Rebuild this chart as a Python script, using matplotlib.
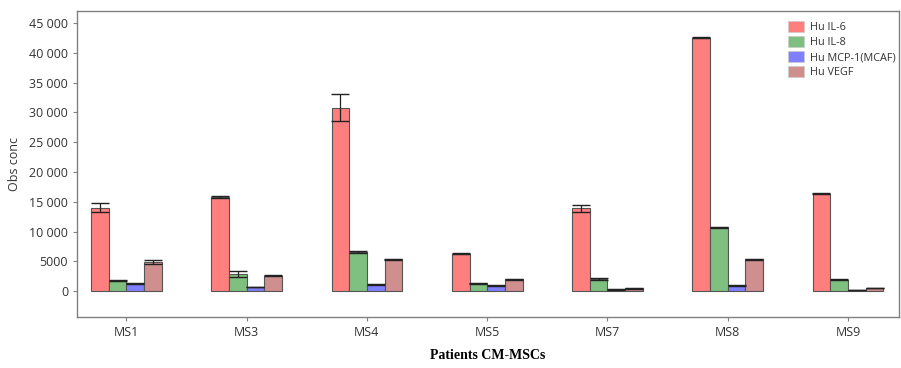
import matplotlib.pyplot as plt
import matplotlib.patches as mpatches
import numpy as np

patients = ["MS1", "MS3", "MS4", "MS5", "MS7", "MS8", "MS9"]
series = ["Hu IL-6", "Hu IL-8", "Hu MCP-1(MCAF)", "Hu VEGF"]

il6 = [14000, 15800, 30800, 6300, 13900, 42500, 16400]
il8 = [1800, 2900, 6600, 1350, 2050, 10700, 1900]
mcp1 = [1300, 700, 1170, 950, 330, 950, 250]
vegf = [4950, 2600, 5350, 2000, 500, 5400, 550]

il6_err = [750, 100, 2300, 80, 600, 100, 100]
il8_err = [100, 500, 200, 100, 200, 80, 80]
mcp1_err = [80, 60, 60, 50, 40, 60, 40]
vegf_err = [300, 80, 80, 60, 40, 100, 50]

yticks = [0, 5000, 10000, 15000, 20000, 25000, 30000, 35000, 40000, 45000]
ytick_labels = ["0", "5000", "10 000", "15 000", "20 000", "25 000",
                "30 000", "35 000", "40 000", "45 000"]

colors = ["#ff7f7f", "#7fbf7f", "#7f7fff", "#cf8f8f"]

fig = plt.figure(figsize=(9.01, 3.68), dpi=100)
ax = fig.add_axes([0.0855, 0.1378, 0.9123, 0.8323])

x = np.arange(len(patients))
w = 0.147
values = [il6, il8, mcp1, vegf]
errors = [il6_err, il8_err, mcp1_err, vegf_err]
for i, (vals, errs) in enumerate(zip(values, errors)):
    pos = x + (i - 1.5) * w
    ax.bar(pos, vals, w, color=colors[i], edgecolor="#555555", linewidth=0.8, zorder=2)
    ax.errorbar(pos, vals, yerr=errs, fmt="none", ecolor="#222222",
                elinewidth=0.9, capsize=6.2, capthick=1.0, zorder=3)

ax.set_xlim(-0.41, 6.424)
ax.set_ylim(-4360, 47010)
ax.set_xticks(x)
ax.set_xticklabels(patients, fontsize=9, family="Open Sans", color="#333333")
ax.set_yticks(yticks)
ax.set_yticklabels(ytick_labels, fontsize=9, family="Open Sans", color="#333333")
ax.tick_params(axis="both", direction="out", length=3, width=0.8, color="#808080")

for s in ax.spines.values():
    s.set_color("#808080")
    s.set_linewidth(1.0)

ax.set_ylabel("Obs conc", fontsize=9, family="Open Sans", color="#333333", labelpad=6)
ax.set_xlabel("Patients CM-MSCs", fontsize=10, family="Liberation Serif",
              fontweight="bold", labelpad=7)

handles = [mpatches.Patch(facecolor=c, edgecolor="#cccccc", linewidth=0.5) for c in colors]
leg = ax.legend(handles, series, loc="upper left", bbox_to_anchor=(0.855, 0.995),
                frameon=False, prop={"family": "Open Sans", "size": 7.8},
                handlelength=1.4, handleheight=1.2, labelspacing=0.25,
                handletextpad=0.6, borderpad=0.3)
for t in leg.get_texts():
    t.set_color("#333333")

fig.savefig("out.png", dpi=100)
plt.close(fig)
